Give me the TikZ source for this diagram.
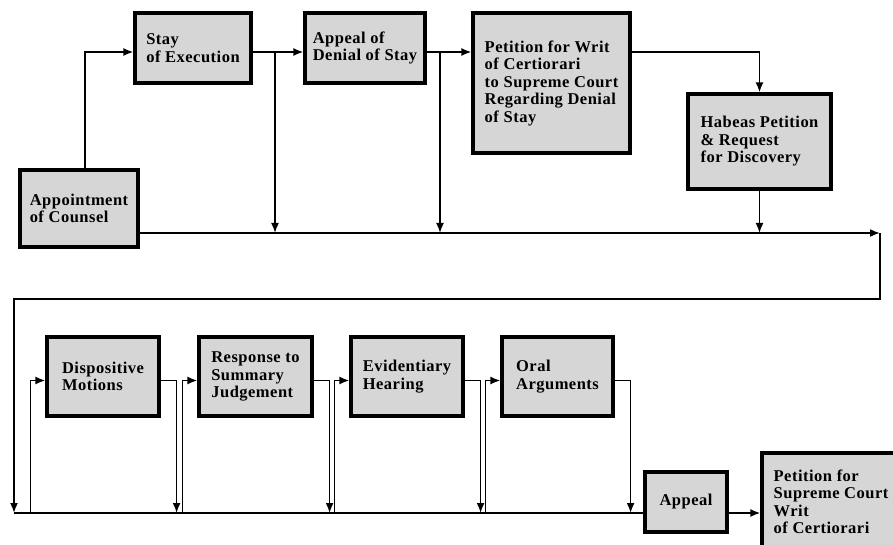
\documentclass[tikz,border=0pt]{standalone}
\usepackage{fontspec}
\setmainfont{Liberation Serif}[LetterSpace=3]
\usetikzlibrary{calc,positioning,arrows.meta}
\tikzset{>={Latex[length=10pt,width=8pt]}}
\tikzset{stage/.style={draw, line width=3.2pt, fill=black!16, align=left, inner sep=0pt, font=\bfseries\fontsize{16.5}{17.5}\selectfont}}

\begin{document}
\begin{tikzpicture}[x=1pt,y=-1pt,line width=1.7pt]
      \useasboundingbox (0,0) rectangle (893,545);
      % first row
      \node[stage, minimum width=118pt, minimum height=77pt] (counsel) at (79,208.5) {Appointment\\of Counsel};
      \node[stage, minimum width=116pt, minimum height=70pt] (stay) at (193,48) {Stay\\of Execution};
      \node[stage, minimum width=120pt, minimum height=70pt] (appealstay) at (365,48) {Appeal of\\Denial of Stay};
      \node[stage, minimum width=157pt, minimum height=140pt] (certiorari) at (551.5,83) {Petition for Writ\\of Certiorari\\to Supreme Court\\Regarding Denial\\of Stay};
      \node[stage, minimum width=143pt, minimum height=95pt] (habeas) at (759.5,141.5) {Habeas Petition\\\& Request\\for Discovery};
      % second row
      \node[stage, minimum width=112pt, minimum height=79pt] (disp) at (103,376.5) {Dispositive\\Motions};
      \node[stage, minimum width=113pt, minimum height=79pt] (resp) at (255.5,376.5) {Response to\\Summary\\Judgement};
      \node[stage, minimum width=112pt, minimum height=79pt] (evid) at (407,376.5) {Evidentiary\\Hearing};
      \node[stage, minimum width=111pt, minimum height=79pt] (oral) at (557.5,376.5) {Oral\\Arguments};
      \node[stage, minimum width=82pt, minimum height=60pt] (appeal) at (686,502) {Appeal};
      \node[stage, minimum width=138pt, minimum height=98pt] (supreme) at (831,502) {Petition for\\Supreme Court\\Writ\\of Certiorari};
      % corners of the connectors
      \coordinate (m0) at (138,233);
      \coordinate (m1) at (880,233);
      \coordinate (r0) at (880,299);
      \coordinate (r1) at (14,299);
      \coordinate (b0) at (14,513);
      \coordinate (d1) at (275,52);
      \coordinate (d2) at (440,52);
      % first row connectors
      \draw[->] ([xshift=6pt]counsel.north) |- ([yshift=-4pt]stay.west);
      \draw[->] ([yshift=-4pt]stay.east) -- ([yshift=-4pt]appealstay.west);
      \draw[->] (d1) -- (d1 |- m0);
      \draw[->] ([yshift=-4pt]appealstay.east) -- (d2 -| certiorari.west);
      \draw[->] (d2) -- (d2 |- m0);
      \draw[->] (d2 -| certiorari.east) -| (habeas.north);
      \draw[->] (habeas.south) -- (habeas.south |- m0);
      \draw[->] (m0) -- (m1);
      \draw[->] (m1) -- (r0) -- (r1) -- (b0);
      % second row connectors
      \draw (b0) -- (b0 -| appeal.west);
      \foreach \b in {disp,resp,evid,oral} {
        \draw[<-] ([yshift=-4pt]\b.west) -- ++(-15,0) coordinate (in) -- (in |- b0);
        \draw[->] ([yshift=-4pt]\b.east) -- ++(16,0) coordinate (out) -- (out |- b0);
      }
      \draw[->] (appeal.east |- b0) -- (b0 -| supreme.west);
    \end{tikzpicture}
\end{document}
